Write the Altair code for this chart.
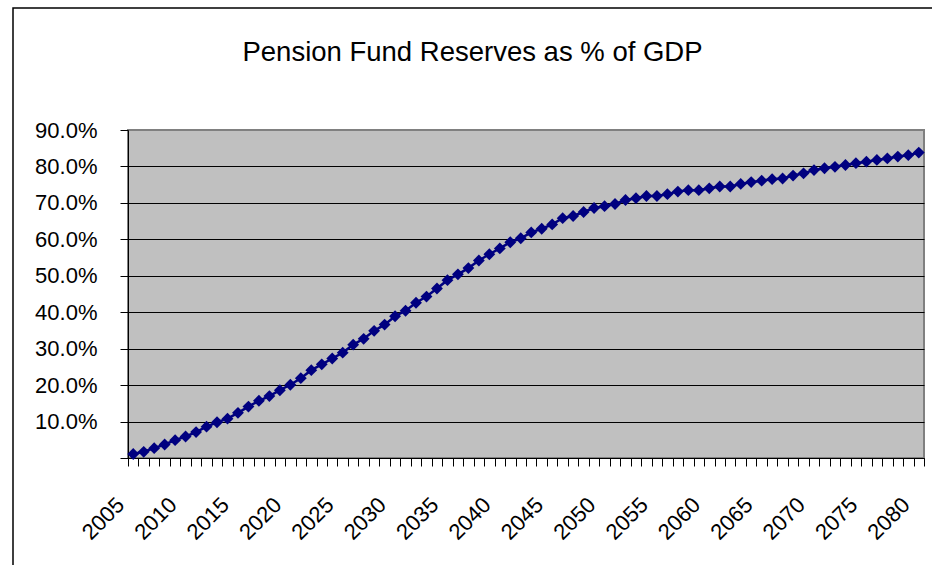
import altair as alt
import pandas as pd

# ---- data ----
years = list(range(2005, 2081))
reserves_pct = [
    1.1, 1.7, 2.7, 3.7, 4.9, 5.9, 7.1, 8.6, 9.8, 10.8,
    12.4, 14.1, 15.7, 17.0, 18.6, 20.1, 21.9, 24.1, 25.7, 27.3,
    28.9, 31.1, 32.7, 34.9, 36.6, 38.9, 40.4, 42.6, 44.3, 46.5,
    48.8, 50.4, 52.1, 54.2, 55.9, 57.5, 59.2, 60.3, 61.9, 62.9,
    64.1, 65.8, 66.4, 67.5, 68.6, 69.1, 69.7, 70.8, 71.3, 71.9,
    71.9, 72.4, 73.1, 73.5, 73.5, 74.0, 74.5, 74.5, 75.2, 75.7,
    76.1, 76.5, 76.7, 77.5, 78.1, 79.0, 79.5, 79.9, 80.4, 80.9,
    81.3, 81.8, 82.2, 82.7, 83.1, 83.8,
]
y_tick_values = [0.0, 0.1, 0.2, 0.3, 0.4, 0.5, 0.6, 0.7, 0.8, 0.9]
x_label_years = ["2005", "2010", "2015", "2020", "2025", "2030", "2035", "2040",
                 "2045", "2050", "2055", "2060", "2065", "2070", "2075", "2080"]
title_text = "Pension Fund Reserves as % of GDP"

df = pd.DataFrame({"year": [str(y) for y in years],
                   "value": [v / 100 for v in reserves_pct]})

LABEL_FONT = "Liberation Sans"
NAVY = "#000080"

label_list = "[" + ",".join("'%s'" % s for s in x_label_years) + "]"

x_enc = alt.X(
    "year:O",
    scale=alt.Scale(paddingInner=0, paddingOuter=0),
    axis=alt.Axis(
        title=None,
        labelAngle=-45,
        labelAlign="right",
        labelBaseline="middle",
        labelExpr="indexof(%s, datum.label) >= 0 ? datum.label : ''" % label_list,
        labelOverlap=False,
        tickBand="extent",
        tickSize=8,
        tickColor="black",
        domainColor="black",
        labelPadding=35,
        labelOffset=-13,
        labelFont=LABEL_FONT,
        labelFontSize=22,
        labelColor="black",
        grid=False,
    ),
)

y_enc = alt.Y(
    "value:Q",
    scale=alt.Scale(domain=[0, 0.9], nice=False),
    axis=alt.Axis(
        title=None,
        values=y_tick_values,
        format=".1%",
        labelExpr="datum.value == 0 ? '' : datum.label",
        grid=True,
        gridColor=alt.condition("datum.value >= 0.89", alt.value("#808080"), alt.value("black")),
        gridWidth=1,
        tickSize=8,
        tickColor="black",
        domainColor="black",
        labelPadding=23,
        labelFont=LABEL_FONT,
        labelFontSize=22,
        labelColor="black",
    ),
)

base = alt.Chart(df)
line = base.mark_line(color=NAVY, strokeWidth=2.5).encode(x=x_enc, y=y_enc)
points = base.mark_point(shape="diamond", filled=True, size=140, color=NAVY, opacity=1).encode(
    x=x_enc, y=y_enc
)

border = alt.Chart(pd.DataFrame({"a": [0]})).mark_rect(
    fillOpacity=0, stroke="black", strokeWidth=1.5
).encode(
    x=alt.value(-115), x2=alt.value(830), y=alt.value(-122), y2=alt.value(460)
)

title = alt.Chart(pd.DataFrame({"t": [title_text]})).mark_text(
    font=LABEL_FONT,
    fontSize=27.5,
    color="black",
    align="center",
    baseline="alphabetic",
).encode(
    text="t:N", x=alt.value(344.5), y=alt.value(-69)
)

chart = alt.layer(line, points, border, title).properties(
    width=796,
    height=328,
    background="white",
    autosize=alt.AutoSizeParams(type="none"),
    padding={"left": 128, "top": 130, "right": 8, "bottom": 107},
).configure_view(
    fill="#C0C0C0", stroke="#808080", strokeWidth=2
)

chart.save("out.html", embed_options={"renderer": "svg", "actions": False})
